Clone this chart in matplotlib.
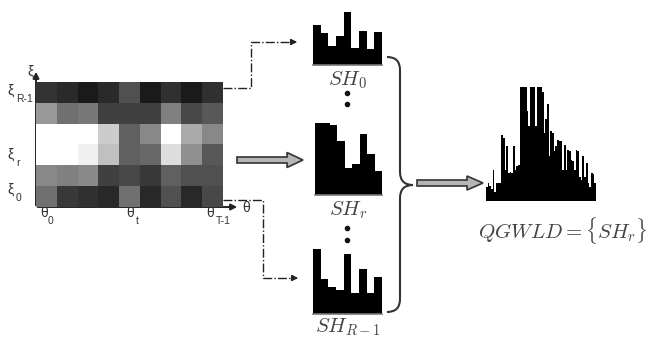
import matplotlib
matplotlib.use("Agg")
import matplotlib.pyplot as plt
from matplotlib.patches import FancyArrow, PathPatch
from matplotlib.path import Path
import numpy as np

W, H = 647, 339

# grey levels of the quantized theta/xi map, top row (xi_{R-1}) to bottom row (xi_0)
grid_rows = [
    [0x33, 0x2a, 0x1a, 0x2a, 0x50, 0x1a, 0x30, 0x1a, 0x30],
    [0x99, 0x70, 0x78, 0x40, 0x40, 0x40, 0x80, 0x48, 0x58],
    [0xff, 0xff, 0xff, 0xcc, 0x60, 0x88, 0xff, 0xaa, 0x88],
    [0xff, 0xff, 0xf0, 0xc0, 0x60, 0x68, 0xdd, 0x90, 0x58],
    [0x88, 0x80, 0x88, 0x40, 0x48, 0x38, 0x60, 0x50, 0x50],
    [0x70, 0x38, 0x30, 0x28, 0x70, 0x28, 0x50, 0x28, 0x48],
]

sh_0 = [40, 32, 19, 29, 53, 17, 34, 16, 33]
sh_r = [72, 72, 70, 54, 27, 31, 61, 41, 24]
sh_r1 = [65, 35, 27, 24, 60, 21, 45, 21, 37]

qgwld = [40, 52, 44, 34, 92, 27, 52, 54, 54, 194, 187, 92, 162, 82, 87, 84,
         162, 92, 104, 107, 337, 337, 337, 337, 267, 222, 337, 337, 337, 222,
         337, 337, 337, 322, 202, 242, 287, 132, 207, 202, 147, 162, 180, 177,
         177, 92, 167, 92, 152, 147, 122, 117, 92, 152, 147, 72, 62, 134, 72,
         112, 52, 42, 82, 80, 52]

plt.rcParams["mathtext.fontset"] = "cm"
plt.rcParams["font.family"] = ["Liberation Sans", "DejaVu Sans"]

fig = plt.figure(figsize=(W / 100, H / 100), dpi=100)


def px_axes(x0, y0, x1, y1):
    return fig.add_axes([x0 / W, 1 - y1 / H, (x1 - x0) / W, (y1 - y0) / H])


###################################################################################################
# overlay for arrows / labels, pixel coordinates
ov = fig.add_axes([0, 0, 1, 1])
ov.set_xlim(0, W)
ov.set_ylim(H, 0)
ov.axis("off")

###################################################################################################
# heat map
hm = px_axes(36, 82, 223, 207)
hm.imshow(np.array(grid_rows), cmap="gray", vmin=0, vmax=255, aspect="auto",
          interpolation="nearest")
hm.axis("off")

ov.annotate("", xy=(36, 69), xytext=(36, 208),
            arrowprops=dict(arrowstyle="-|>", color="#222222", lw=1.4, mutation_scale=9))
ov.annotate("", xy=(240, 207), xytext=(35, 207),
            arrowprops=dict(arrowstyle="-|>", color="#222222", lw=1.4, mutation_scale=9))

tc = "#333333"


def sym(x, y, base, sub, dx=7):
    ov.text(x, y, base, fontsize=10, color=tc, ha="center", va="center")
    ov.text(x + dx, y + 8, sub, fontsize=7.5, color=tc, ha="center", va="center")


ov.text(30, 72, "ξ", fontsize=10, color=tc, ha="center", va="center")
sym(11, 91, "ξ", "R-1", dx=14)
sym(11, 155, "ξ", "r")
sym(11, 190, "ξ", "0")

sym(44, 213, "θ", "0")
sym(130, 213, "θ", "t")
sym(210, 213, "θ", "T-1", dx=13)
ov.text(246, 208, "θ", fontsize=10, color=tc, ha="center", va="center")

###################################################################################################
# dash-dot connectors
ov.plot([223, 251, 251, 292], [88, 88, 42, 42], ls="-.", color="#222222", lw=1)
ov.annotate("", xy=(300, 42), xytext=(291, 42),
            arrowprops=dict(arrowstyle="-|>", color="#222222", lw=1, mutation_scale=9))
ov.plot([223, 263, 263, 292], [200, 200, 278, 278], ls="-.", color="#222222", lw=1)
ov.annotate("", xy=(301, 278), xytext=(292, 278),
            arrowprops=dict(arrowstyle="-|>", color="#222222", lw=1, mutation_scale=9))

# block arrows
ov.add_patch(FancyArrow(237, 160, 66, 0, width=6, head_width=15, head_length=16,
                        length_includes_head=True, fc="#b5b5b5", ec="#333333", lw=1.2))
ov.add_patch(FancyArrow(417, 183, 66, 0, width=6, head_width=14, head_length=16,
                        length_includes_head=True, fc="#b5b5b5", ec="#333333", lw=1.2))

###################################################################################################
# small histograms
lc = "#444444"


def hist(vals, x0, x1, base, label, ly):
    a = px_axes(x0, base - max(vals), x1, base)
    a.bar(range(len(vals)), vals, width=1.0, color="black")
    a.set_xlim(-0.5, len(vals) - 0.5)
    a.set_ylim(0, max(vals))
    a.axis("off")
    a.axhline(0, color="#777777", lw=1.2, clip_on=False)
    ov.text((x0 + x1) / 2, ly, label, fontsize=15, color=lc, ha="center", va="center")


hist(sh_0, 313, 382, 65, r"$SH_0$", 80)
hist(sh_r, 315, 382, 195, r"$SH_r$", 210)
hist(sh_r1, 313, 382, 314, r"$SH_{R-1}$", 327)

for yy in [93, 104, 228, 240]:
    ov.plot(347, yy, "o", color="#111111", ms=3)

# brace
verts = [(387, 57), (400, 57), (400, 70), (400, 172), (400, 185), (413, 185),
         (400, 185), (400, 198), (400, 299), (400, 312), (387, 312)]
codes = [Path.MOVETO, Path.CURVE3, Path.CURVE3, Path.LINETO, Path.CURVE3, Path.CURVE3,
         Path.CURVE3, Path.CURVE3, Path.LINETO, Path.CURVE3, Path.CURVE3]
ov.add_patch(PathPatch(Path(verts, codes), fc="none", ec="#333333", lw=1.5))

###################################################################################################
# combined descriptor
big = px_axes(486, 201 - 114, 596, 201)
big.bar(range(len(qgwld)), qgwld, width=1.0, color="black")
big.set_xlim(-0.5, len(qgwld) - 0.5)
big.set_ylim(0, max(qgwld))
big.axis("off")
ov.text(563, 230, r"$QGWLD = \{SH_r\}$", fontsize=15, color=lc, ha="center", va="center")

fig.savefig("out.png", dpi=100)
